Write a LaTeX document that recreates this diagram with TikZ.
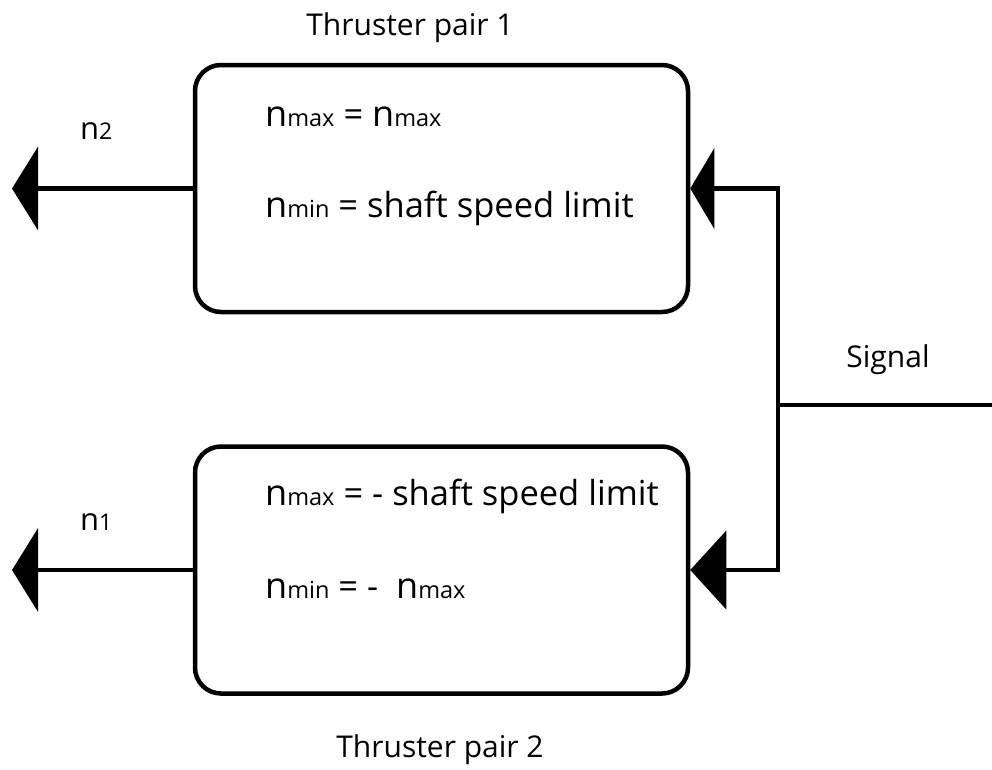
\documentclass[tikz,border=0pt]{standalone}
\usepackage{fontspec}
\setmainfont{Open Sans}
\usetikzlibrary{arrows.meta}
\newcommand{\nn}[1]{{\fontsize{36}{42}\selectfont n}{\fontsize{23.5}{28}\selectfont #1}}
\newcommand{\mtxt}[1]{{\fontsize{34.5}{40}\selectfont #1}}
\begin{document}
\begin{tikzpicture}[x=1pt,y=-1pt,
  box/.style={draw,line width=4.5pt,rounded corners=26pt,minimum width=493pt,minimum height=247pt,inner sep=0pt},
  wire/.style={line width=4.5pt},
  lbl/.style={anchor=base west,inner sep=0pt},
  outarr/.style={wire,-{Triangle[length=26pt,width=83pt]}},
  inarrA/.style={wire,-{Triangle[length=24pt,width=80pt]}},
  inarrB/.style={wire,-{Triangle[length=36pt,width=78pt]}},
  ttl/.style={anchor=base,inner sep=0pt,font=\fontsize{30}{34}\selectfont}]
\useasboundingbox (0,0) rectangle (992,769);
\node[box] (b1) at (441.5,188.5) {};
\node[box] (b2) at (441.5,570) {};
\node[ttl] (t1) at (410,35) {Thruster pair 1};
\node[ttl] (t2) at (440,757) {Thruster pair 2};
\node[ttl] (sg) at (888,367) {Signal};
\node[lbl] (l11) at (265,126) {\nn{max}\mtxt{ = }\nn{max}};
\node[lbl] (l12) at (265,217) {\nn{min}\mtxt{ = shaft speed limit}};
\node[lbl] (l21) at (265,505) {\nn{max}\mtxt{ = - shaft speed limit}};
\node[lbl] (l22) at (265,598) {\nn{min}\mtxt{ = -\ \ }\nn{max}};
\node[lbl] (n2) at (80,139) {{\fontsize{31}{34}\selectfont n}{\fontsize{23}{26}\selectfont 2}};
\node[lbl] (n1) at (80,530) {{\fontsize{31}{34}\selectfont n}{\fontsize{23}{26}\selectfont 1}};
\coordinate (o2) at (12,188.5);
\coordinate (o1) at (12,570);
\coordinate (sig) at (992,405);
\coordinate (jm) at (778,405);
\coordinate (jt) at (778,188.5);
\coordinate (jb) at (778,570);
\draw[outarr] (b1.west) -- (o2);
\draw[outarr] (b2.west) -- (o1);
\draw[wire] (sig) -- (jm);
\draw[inarrA] (jm) -- (jt) -- (b1.east);
\draw[inarrB] (jm) -- (jb) -- (b2.east);
\end{tikzpicture}
\end{document}
